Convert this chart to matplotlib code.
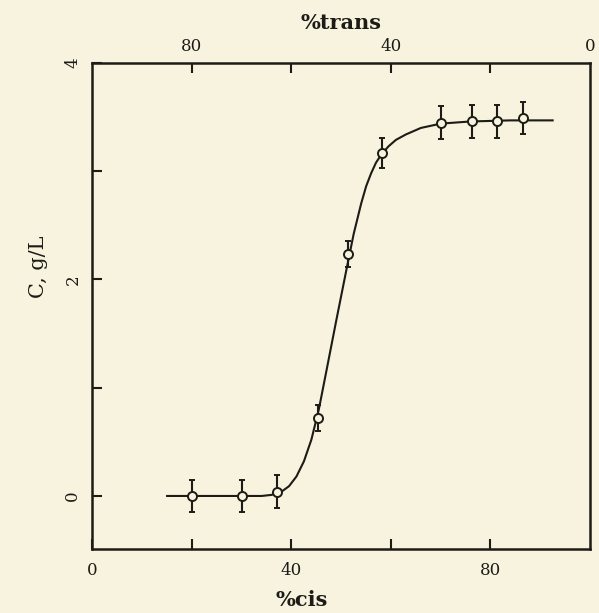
import numpy as np
import matplotlib.pyplot as plt

# measured points (% cis vs concentration)
cis_pts = [20, 30, 37, 45.3, 51.4, 58.2, 70, 76.3, 81.3, 86.5]
conc_pts = [0.0, 0.0, 0.04, 0.72, 2.24, 3.17, 3.45, 3.46, 3.46, 3.49]
conc_err = [0.15, 0.15, 0.15, 0.12, 0.12, 0.14, 0.15, 0.15, 0.15, 0.15]

# fitted curve
curve_cis = [15, 25, 34, 36, 38, 39.5, 41, 42.5, 44, 45.5, 47, 49, 51, 52.5,
             54, 55, 56, 57, 58, 59.5, 61, 63, 66, 70, 76, 84, 92.5]
curve_conc = [0.0, 0.0, 0.0, 0.01, 0.04, 0.09, 0.18, 0.32, 0.52, 0.8, 1.15,
              1.62, 2.08, 2.42, 2.7, 2.86, 2.98, 3.08, 3.15, 3.23, 3.29, 3.34,
              3.4, 3.44, 3.46, 3.47, 3.47]

bottom_ticks = [0, 20, 40, 60, 80]
bottom_labels = ['0', '', '40', '', '80']
top_ticks = [20, 40, 60, 80, 100]
top_labels = ['80', '', '40', '', '0']
y_ticks = [0, 1, 2, 3, 4]
y_labels = ['0', '', '2', '', '4']

paper = '#f7f3de'
ink = '#1c1b16'

plt.rcParams['font.family'] = ['DejaVu Serif']

fig = plt.figure(figsize=(5.99, 6.13), dpi=100, facecolor=paper)
ax = fig.add_axes([0.1544, 0.1044, 0.8305, 0.7928], facecolor=paper)

ax.plot(curve_cis, curve_conc, color=ink, lw=1.5, zorder=2)
ax.errorbar(cis_pts, conc_pts, yerr=conc_err, fmt='o', ms=6.5,
            mfc=paper, mec=ink, mew=1.4, ecolor=ink, elinewidth=1.5,
            capsize=2.5, capthick=1.6, zorder=3)

ax.set_xlim(0, 100)
ax.set_ylim(-0.49, 4)

for side in ax.spines.values():
    side.set_linewidth(1.8)
    side.set_color(ink)

ax.set_xticks(bottom_ticks)
ax.set_xticklabels(bottom_labels, fontsize=12)
ax.set_yticks(y_ticks)
ax.set_yticklabels(y_labels, fontsize=12, rotation=90, va='center')
ax.tick_params(direction='in', length=7, width=1.5, color=ink, labelcolor=ink)
ax.tick_params(axis='x', pad=9)
ax.tick_params(axis='y', pad=8)

top = ax.secondary_xaxis('top')
top.set_xticks(top_ticks)
top.set_xticklabels(top_labels, fontsize=12)
top.tick_params(direction='in', length=7, width=1.5, color=ink,
                labelcolor=ink, pad=6)
top.spines['top'].set_visible(False)
# no tick drawn at the right corner on top
top.get_xticklines()[-1].set_visible(False)

ax.set_xlabel('%cis', fontsize=15, fontweight='bold', color=ink, labelpad=4)
ax.xaxis.set_label_coords(0.42, -0.085)
top.set_xlabel('%trans', fontsize=15, fontweight='bold', color=ink, labelpad=6)
ax.set_ylabel('C, g/L', fontsize=15, color=ink, labelpad=10)
ax.yaxis.set_label_coords(-0.09, 0.58)

plt.savefig('out.png', dpi=100, facecolor=paper)
